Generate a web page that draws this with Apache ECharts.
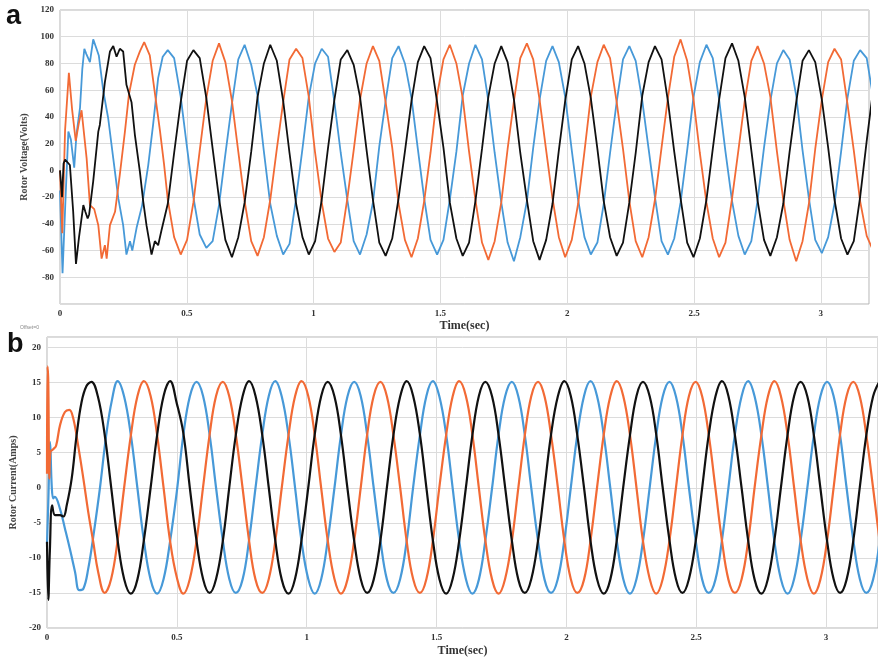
<!DOCTYPE html>
<html><head><meta charset="utf-8">
<script src="https://cdn.jsdelivr.net/npm/echarts@6/dist/echarts.min.js"></script>
<style>html,body{margin:0;padding:0;background:#fff}#c{width:878px;height:658px}</style>
</head><body><div id="c"></div>
<script>
// ---------- Panel a: Rotor Voltage (Volts) ----------
const timeA = [
0.425,0.450,0.476,0.501,0.526,0.551,0.577,0.602,0.627,0.652,
0.678,0.703,0.728,0.754,0.779,0.804,0.829,0.855,0.880,0.905,
0.931,0.956,0.981,1.006,1.032,1.057,1.082,1.107,1.133,1.158,
1.183,1.209,1.234,1.259,1.284,1.310,1.335,1.360,1.386,1.411,
1.436,1.461,1.487,1.512,1.537,1.563,1.588,1.613,1.638,1.664,
1.689,1.714,1.740,1.765,1.790,1.815,1.841,1.866,1.891,1.917,
1.942,1.967,1.992,2.018,2.043,2.068,2.093,2.119,2.144,2.169,
2.195,2.220,2.245,2.270,2.296,2.321,2.346,2.372,2.397,2.422,
2.447,2.473,2.498,2.523,2.549,2.574,2.599,2.624,2.650,2.675,
2.700,2.726,2.751,2.776,2.801,2.827,2.852,2.877,2.903,2.928,
2.953,2.978,3.004,3.029,3.054,3.080,3.105,3.130,3.155,3.181,
3.206];
const blueA = [
90,84,55,17,-20,-48,-58,-53,-26,12,50,83,
94,79,56,14,-25,-49,-63,-55,-21,16,55,80,
91,85,51,13,-22,-53,-63,-48,-24,18,52,84,
93,80,54,16,-21,-52,-63,-52,-22,14,56,80,
94,83,52,13,-24,-54,-68,-50,-23,17,53,82,
93,81,55,15,-22,-50,-63,-54,-25,13,51,83,
93,82,52,16,-20,-53,-63,-51,-24,15,55,81,
94,84,53,14,-23,-49,-63,-53,-22,17,52,80,
90,83,56,15,-21,-52,-62,-50,-25,14,54,82,
90,84,55];
const blackA = [
-25,13,51,82,90,84,54,16,-21,-52,-65,-50,
-24,14,55,80,94,82,52,13,-25,-50,-63,-53,
-22,17,53,83,90,79,55,15,-22,-54,-64,-51,
-21,14,52,81,93,84,51,17,-24,-51,-64,-54,
-23,16,55,80,93,81,53,13,-22,-53,-67,-52,
-25,15,52,83,93,80,54,16,-23,-50,-64,-54,
-24,13,56,81,93,83,52,14,-21,-54,-65,-51,
-22,16,53,84,95,82,55,15,-23,-52,-64,-50,
-25,14,51,82,90,81,53,17,-22,-51,-63,-53,
-20,22,60];
const orangeA = [
-22,-50,-63,-52,-24,15,54,82,95,81,52,14,
-23,-53,-64,-50,-22,16,51,83,91,84,55,13,
-24,-51,-61,-54,-21,15,53,80,93,82,51,17,
-25,-52,-65,-51,-23,13,56,83,94,80,54,14,
-22,-54,-67,-53,-24,16,52,84,95,83,53,15,
-21,-50,-65,-52,-25,14,55,81,94,84,51,16,
-23,-53,-65,-50,-22,17,54,85,98,82,53,13,
-24,-51,-65,-54,-21,15,52,82,93,80,55,14,
-22,-52,-68,-53,-25,16,53,81,91,83,50,15,
-23,-49,-60];
// start-up transient (time, value)
const blueA0 = [[0,-15],[0.010,-77],[0.022,-20],[0.033,29],[0.043,23],[0.056,2],[0.065,27],[0.079,47],[0.088,76],[0.096,91],[0.104,87],[0.118,81],[0.131,98],[0.144,91],[0.153,86],[0.171,59],[0.190,39],[0.210,9],[0.230,-21],[0.249,-41],[0.262,-63],[0.276,-53],[0.285,-60],[0.302,-43],[0.324,-26],[0.348,4],[0.367,34],[0.387,69],[0.405,85]];
const blackA0 = [[0,0],[0.008,-20],[0.014,5],[0.020,8],[0.039,4],[0.052,-31],[0.063,-70],[0.075,-50],[0.092,-26],[0.100,-31],[0.109,-36],[0.115,-33],[0.131,-8],[0.151,29],[0.157,34],[0.177,66],[0.197,89],[0.210,93],[0.223,85],[0.236,91],[0.249,89],[0.262,64],[0.282,51],[0.295,27],[0.315,-1],[0.328,-23],[0.341,-41],[0.361,-63],[0.374,-53],[0.387,-56],[0.400,-45]];
const orangeA0 = [[0,0],[0.009,-47],[0.020,30],[0.035,73],[0.048,45],[0.062,22],[0.074,35],[0.085,45],[0.105,9],[0.118,-26],[0.135,-29],[0.151,-41],[0.164,-66],[0.177,-56],[0.184,-66],[0.197,-41],[0.217,-31],[0.236,-3],[0.256,29],[0.272,57],[0.295,79],[0.315,89],[0.332,96],[0.354,86],[0.374,58],[0.394,30],[0.410,5]];

// ---------- Panel b: Rotor Current (Amps) ----------
const timeB = [
0.171,0.196,0.222,0.247,0.272,0.297,0.323,0.348,0.373,0.399,
0.424,0.449,0.474,0.500,0.525,0.550,0.576,0.601,0.626,0.651,
0.677,0.702,0.727,0.753,0.778,0.803,0.829,0.854,0.879,0.904,
0.930,0.955,0.980,1.006,1.031,1.056,1.081,1.107,1.132,1.157,
1.183,1.208,1.233,1.258,1.284,1.309,1.334,1.360,1.385,1.410,
1.436,1.461,1.486,1.511,1.537,1.562,1.587,1.613,1.638,1.663,
1.688,1.714,1.739,1.764,1.790,1.815,1.840,1.865,1.891,1.916,
1.941,1.967,1.992,2.017,2.042,2.068,2.093,2.118,2.144,2.169,
2.194,2.219,2.245,2.270,2.295,2.321,2.346,2.371,2.397,2.422,
2.447,2.472,2.498,2.523,2.548,2.574,2.599,2.624,2.649,2.675,
2.700,2.725,2.751,2.776,2.801,2.826,2.852,2.877,2.902,2.928,
2.953,2.978,3.004,3.029,3.054,3.079,3.105,3.130,3.155,3.181,
3.206];
const blackB = [
15.1,13.0,7.6,0.1,-7.5,-13.0,-15.1,-13.1,-7.5,0.0,7.5,13.1,
15.2,12.0,7.8,0.0,-7.6,-13.0,-15.0,-13.0,-7.6,0.1,7.5,13.0,
15.2,13.1,7.5,0.0,-7.5,-13.1,-15.1,-13.0,-7.5,0.0,7.6,13.1,
15.1,13.0,7.5,-0.1,-7.6,-13.0,-15.0,-13.1,-7.5,0.1,7.5,13.0,
15.2,13.1,7.6,0.0,-7.5,-13.0,-15.1,-13.0,-7.6,0.0,7.5,13.1,
15.1,13.0,7.5,0.1,-7.5,-13.1,-15.0,-13.0,-7.5,0.0,7.6,13.0,
15.2,13.1,7.5,0.0,-7.6,-13.0,-15.1,-13.1,-7.5,0.1,7.5,13.1,
15.1,13.0,7.6,0.0,-7.5,-13.0,-15.0,-13.0,-7.6,0.0,7.5,13.0,
15.2,13.1,7.5,-0.1,-7.5,-13.1,-15.1,-13.0,-7.5,0.0,7.6,13.1,
15.1,13.0,7.5,0.0,-7.6,-13.0,-15.0,-13.1,-7.5,0.1,7.5,13.0,
15.2];
// blue starts at timeB[4], orange at timeB[2]
const blueB = [
15.2,13.0,7.5,0.0,-7.5,-13.1,-15.1,-13.0,-7.6,-0.5,7.5,13.0,
15.1,13.1,7.6,0.0,-7.5,-13.0,-15.0,-13.1,-7.5,0.0,7.6,13.1,
15.2,13.0,7.5,0.1,-7.6,-13.0,-15.1,-13.0,-7.5,0.0,7.5,13.0,
15.1,13.1,7.5,0.0,-7.5,-13.1,-15.0,-13.0,-7.6,0.1,7.5,13.1,
15.2,13.0,7.6,0.0,-7.5,-13.0,-15.1,-13.1,-7.5,0.0,7.6,13.0,
15.1,13.0,7.5,-0.1,-7.6,-13.1,-15.0,-13.0,-7.5,0.0,7.5,13.1,
15.2,13.1,7.5,0.0,-7.5,-13.0,-15.1,-13.0,-7.6,0.1,7.5,13.0,
15.1,13.0,7.6,0.0,-7.5,-13.1,-15.0,-13.1,-7.5,0.0,7.6,13.1,
15.2,13.0,7.5,0.1,-7.6,-13.0,-15.1,-13.0,-7.5,0.0,7.5,13.0,
15.1,13.1,7.5,0.0,-7.5,-13.0,-15.0,-13.1,-7.6];
const orangeB = [
-15.0,-13.0,-7.5,0.0,7.5,13.0,
15.2,13.1,7.5,0.0,-7.6,-12.8,-15.1,-13.0,-7.5,0.1,7.5,13.1,
15.1,13.0,7.6,0.0,-7.5,-13.1,-15.0,-13.0,-7.6,0.0,7.5,13.0,
15.2,13.1,7.5,-0.1,-7.5,-13.0,-15.1,-13.1,-7.5,0.0,7.6,13.1,
15.1,13.0,7.5,0.0,-7.6,-13.0,-15.0,-13.0,-7.5,0.1,7.5,13.0,
15.2,13.1,7.6,0.0,-7.5,-13.1,-15.1,-13.0,-7.6,0.0,7.5,13.1,
15.1,13.0,7.5,0.1,-7.5,-13.0,-15.0,-13.1,-7.5,0.0,7.6,13.0,
15.2,13.1,7.5,0.0,-7.6,-13.0,-15.1,-13.0,-7.5,0.0,7.5,13.1,
15.1,13.0,7.6,-0.1,-7.5,-13.1,-15.0,-13.0,-7.6,0.1,7.5,13.0,
15.2,13.1,7.5,0.0,-7.5,-13.0,-15.1,-13.1,-7.5,0.0,7.6,13.1,
15.1,13.0,7.5,0.0,-7.6];
const blackB0 = [[0,-7.7],[0.005,-16],[0.011,-9],[0.020,-2.5],[0.031,-3.9],[0.050,-3.9],[0.063,-4.1],[0.076,-2.5],[0.095,1.3],[0.114,7.5],[0.133,12.2],[0.152,14.5]];
const blueB0 = [[0,-8],[0.005,-2],[0.012,6.5],[0.018,0.4],[0.024,-1.5],[0.030,-1.3],[0.050,-3],[0.069,-5.8],[0.088,-8.7],[0.108,-12],[0.124,-14.6],[0.140,-14.4],[0.159,-11.5],[0.180,-6.5],[0.204,0],[0.228,7.5],[0.250,12.5]];
const orangeB0 = [[0,2],[0.002,17.3],[0.005,15],[0.009,1.3],[0.013,5.1],[0.024,5.5],[0.035,6],[0.050,8.9],[0.069,10.8],[0.086,11.1],[0.101,9.9],[0.120,6],[0.140,1.3],[0.159,-3.5],[0.178,-7.7],[0.197,-12]];

const xTicks = [0, 0.5, 1, 1.5, 2, 2.5, 3];
const yTicksA = [-80, -60, -40, -20, 0, 20, 40, 60, 80, 100, 120];
const yTicksB = [-20, -15, -10, -5, 0, 5, 10, 15, 20];

const BLUE = '#4799d8', ORANGE = '#f26a35', BLACK = '#111111';

function build(t0, times, vals, offset) {
  const out = t0.slice();
  vals.forEach((v, i) => out.push([times[i + offset], v]));
  return out;
}

const chart = echarts.init(document.getElementById('c'));
const lab = {fontFamily: 'Liberation Serif', fontWeight: 'bold', fontSize: 9, color: '#333'};
const nameStyle = {fontFamily: 'Liberation Serif', fontWeight: 'bold', fontSize: 12, color: '#333'};
const yNameStyle = {fontFamily: 'Liberation Serif', fontWeight: 'bold', fontSize: 10, color: '#444'};
const split = {show: true, lineStyle: {color: '#dcdcdc', width: 1}};

function xAx(gi, max, gap) {
  return {gridIndex: gi, type: 'value', min: 0, max: max, interval: 0.5,
    name: 'Time(sec)', nameLocation: 'middle', nameGap: gap, nameTextStyle: nameStyle,
    axisLine: {show: false}, axisTick: {show: false}, splitLine: split,
    axisLabel: Object.assign({margin: 5, showMaxLabel: false,
      formatter: v => xTicks.indexOf(v) >= 0 ? String(v) : ''}, lab)};
}
function yAx(gi, min, max, step, name, gap, ticks) {
  return {gridIndex: gi, type: 'value', min: min, max: max, interval: step,
    name: name, nameLocation: 'middle', nameGap: gap, nameTextStyle: yNameStyle,
    axisLine: {show: false}, axisTick: {show: false}, splitLine: split,
    axisLabel: Object.assign({margin: 6, formatter: v => ticks.indexOf(v) >= 0 ? String(v) : ''}, lab)};
}
function ln(name, xi, data, color, w, smooth) {
  return {name: name, type: 'line', xAxisIndex: xi, yAxisIndex: xi, data: data,
    showSymbol: false, symbol: 'none', smooth: smooth, clip: true,
    lineStyle: {color: color, width: w}, itemStyle: {color: color}};
}

chart.setOption({
  animation: false,
  backgroundColor: '#fff',
  grid: [
    {left: 60, top: 10, width: 809, height: 294, show: true, borderColor: '#b5b5b5', borderWidth: 1},
    {left: 47, top: 337, width: 833, height: 291, show: true, borderColor: '#b5b5b5', borderWidth: 1}
  ],
  xAxis: [xAx(0, 3.19, 16), xAx(1, 3.2, 17)],
  yAxis: [yAx(0, -100, 120, 20, 'Rotor Voltage(Volts)', 29, yTicksA),
          yAx(1, -20, 21.5, 5, 'Rotor Current(Amps)', 25, yTicksB)],
  series: [
    ln('a-blue', 0, build(blueA0, timeA, blueA, 0), BLUE, 1.8, false),
    ln('a-orange', 0, build(orangeA0, timeA, orangeA, 0), ORANGE, 1.8, false),
    ln('a-black', 0, build(blackA0, timeA, blackA, 0), BLACK, 1.8, false),
    ln('b-blue', 1, build(blueB0, timeB, blueB, 4), BLUE, 2.2, 0.4),
    ln('b-orange', 1, build(orangeB0, timeB, orangeB, 2), ORANGE, 2.2, 0.4),
    ln('b-black', 1, build(blackB0, timeB, blackB, 0), BLACK, 2.2, 0.4)
  ],
  graphic: [
    {type: 'text', left: 6, top: 3, style: {text: 'a', font: 'bold 27px "Liberation Sans", Arial', fill: '#111'}},
    {type: 'text', left: 7, top: 331, style: {text: 'b', font: 'bold 27px "Liberation Sans", Arial', fill: '#111'}},
    {type: 'text', left: 20, top: 325, style: {text: 'Offset=0', font: '5px "Liberation Sans"', fill: '#888'}}
  ]
});
</script></body></html>
